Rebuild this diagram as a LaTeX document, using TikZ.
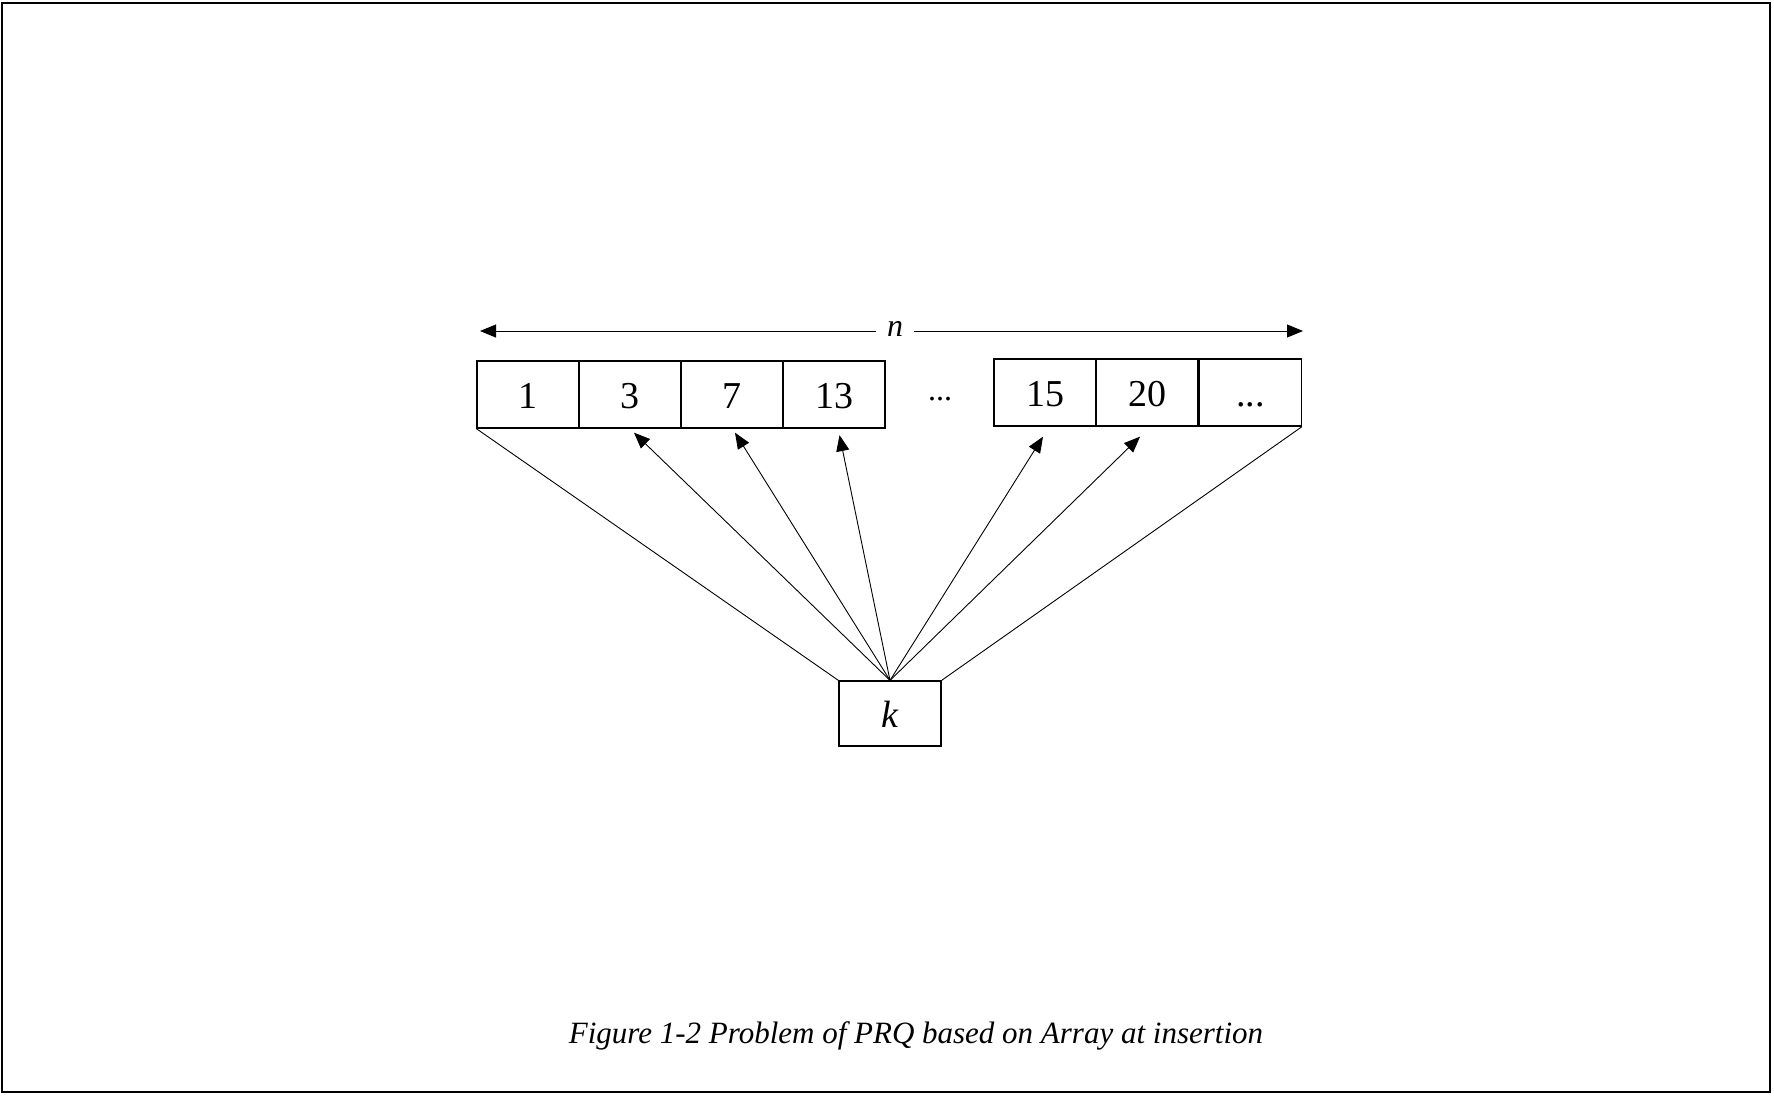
\documentclass[tikz,border=0pt]{standalone}
\usepackage{fontspec}
\setmainfont{Liberation Serif}
\usetikzlibrary{arrows.meta,positioning}
\begin{document}
\begin{tikzpicture}[x=1pt,y=-1pt,
  cell/.style={draw,line width=1.3pt,minimum width=102pt,minimum height=67pt,inner sep=0pt,
    text height=27pt,text depth=0pt,font=\fontsize{38}{44}\selectfont},
  link/.style={line width=0.9pt},
  ptr/.style={line width=0.9pt,-{Triangle[length=16pt,width=13pt]}}]
  \useasboundingbox (0,0) rectangle (1774,1096);
  \draw[line width=1.6pt] (2,3) rectangle (1770,1092);
  % the array, left and right part
  \foreach \v [count=\i] in {1,3,7,13} \node[cell] (a\i) at ({426+102*\i},394.5) {\v};
  \foreach \v [count=\i] in {15,20} \node[cell] (b\i) at ({943+102*\i},392.5) {\v};
  \node[cell,right=0pt of b2] (b3) {...};
  \node[font=\fontsize{32}{38}\selectfont,text height=27pt,text depth=0pt] (gap) at (940,387) {...};
  % length n
  \node[font=\fontsize{32}{38}\selectfont\itshape,inner xsep=11pt] (n) at (895,329) {n};
  \coordinate (nl) at (480,331);
  \coordinate (nr) at (1303,331);
  \draw[ptr] (n.west |- nl) -- (nl);
  \draw[ptr] (n.east |- nr) -- (nr);
  % key k
  \node[cell,minimum height=65pt] (k) at (890,713.5) {\itshape k};
  \draw[link] (k.north west) -- (a1.south west);
  \draw[link] (k.north east) -- (b3.south east);
  \foreach \c/\dx/\dy in {a2/4/4,a3/3/4,a4/5.5/6.5,b1/-2/10,b2/-7/10}
    \draw[ptr] (k.north) -- ([xshift=\dx pt,yshift=-\dy pt]\c.south);
  \node[font=\fontsize{31}{36}\selectfont\itshape] (cap) at (916,1036)
    {Figure 1-2 Problem of PRQ based on Array at insertion};
\end{tikzpicture}
\end{document}
